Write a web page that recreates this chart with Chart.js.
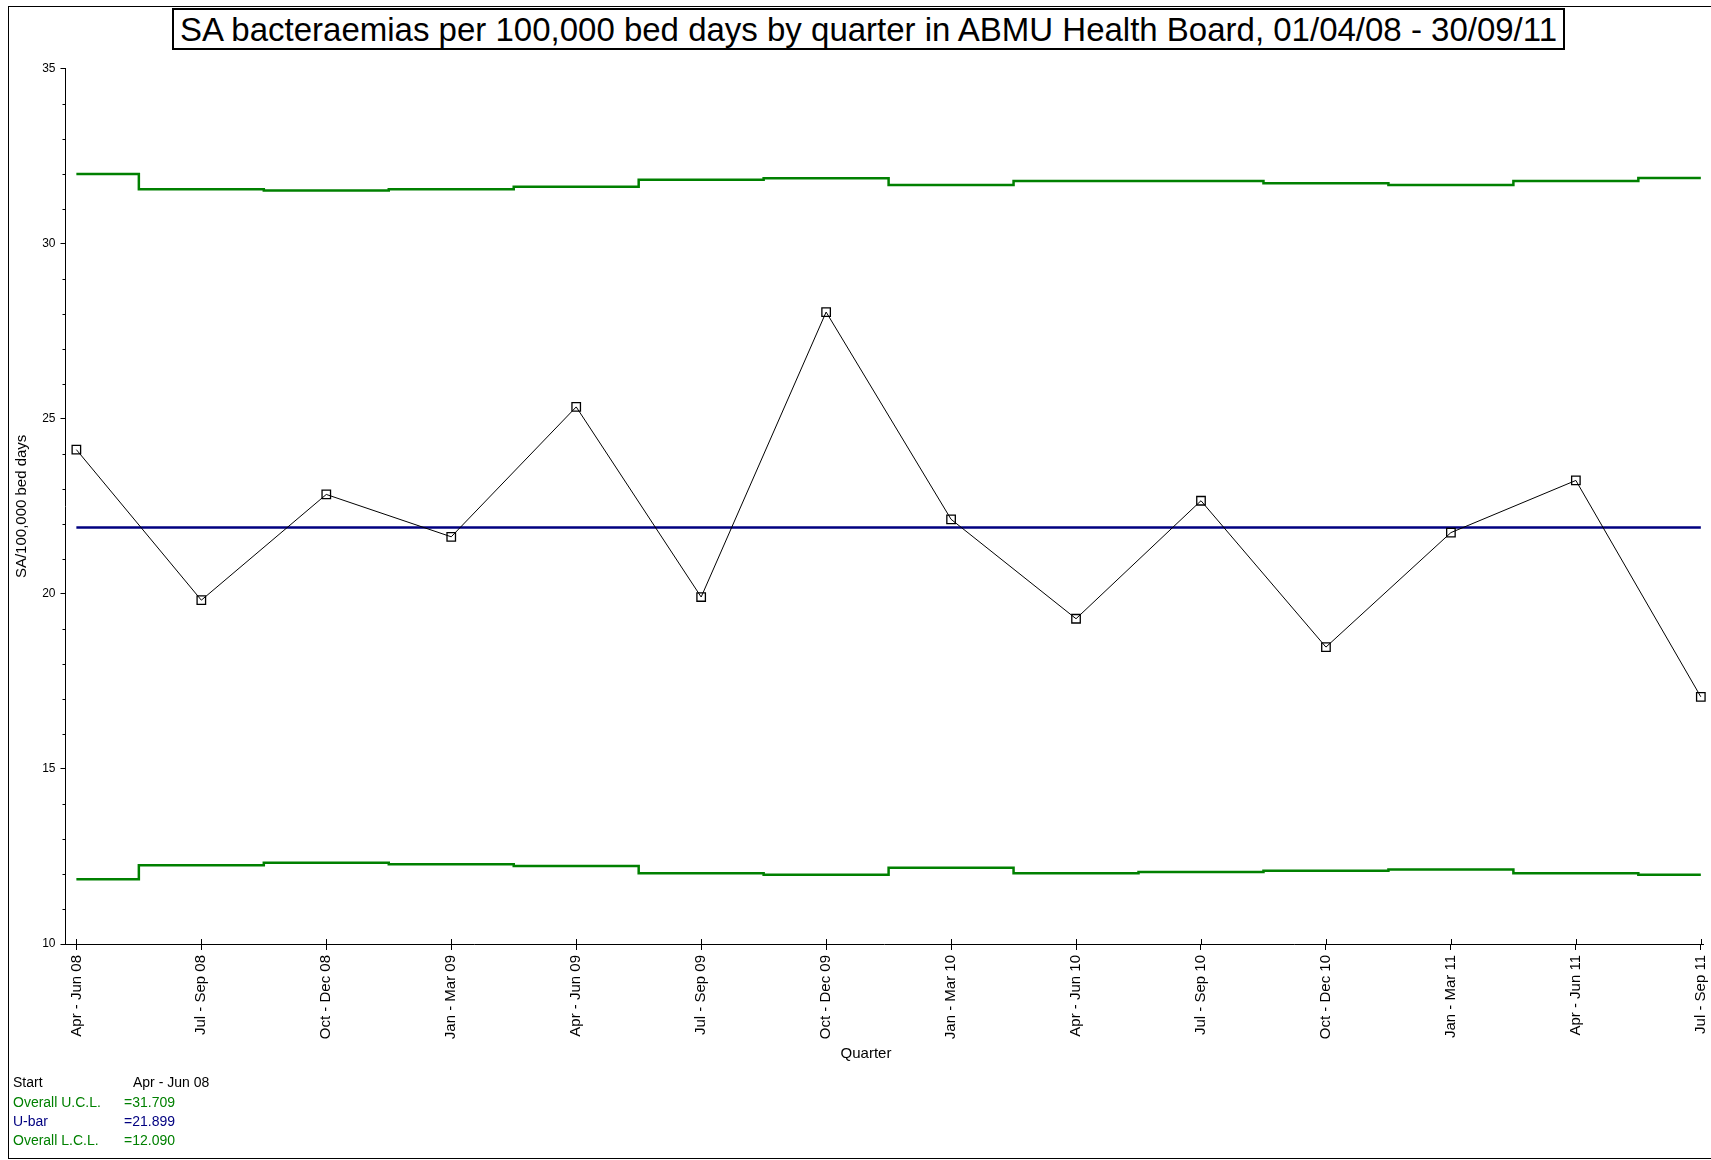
<!DOCTYPE html>
<html>
<head>
<meta charset="utf-8">
<title>SA bacteraemias per 100,000 bed days</title>
<script src="https://cdn.jsdelivr.net/npm/chart.js@4.4.1/dist/chart.umd.min.js"></script>
<style>
    body { margin: 0; background: #fff; }
    #wrap { position: relative; width: 1711px; height: 1160px; overflow: hidden;
            font-family: 'Liberation Sans', Arial, sans-serif; color: #000; }
    #chart { position: absolute; left: 0; top: 0; }
    #frame { position: absolute; left: 8px; top: 6px; width: 1710px; height: 1153px; box-sizing: border-box;
             border-left: 1px solid #000; border-top: 1px solid #000; border-bottom: 1px solid #000; }
    #title { position: absolute; left: 172px; top: 8px; width: 1393px; height: 42px; box-sizing: border-box;
             border: 2px solid #000; background: #fff; font-size: 33px; line-height: 40px;
             text-align: center; white-space: nowrap; }
    #xTitle { position: absolute; left: 766px; width: 200px; top: 1043px; text-align: center;
              font-size: 15px; line-height: 20px; }
    .stat { position: absolute; font-size: 14px; line-height: 20px; white-space: nowrap; }
    .green { color: #008000; }
    .navy { color: #000080; }
</style>
</head>
<body>
<div id="wrap">
    <canvas id="chart" width="1711" height="1160"></canvas>
    <div id="frame"></div>
    <div id="title">SA bacteraemias per 100,000 bed days by quarter in ABMU Health Board, 01/04/08 - 30/09/11</div>
    <div id="xTitle">Quarter</div>
    <div id="stats"></div>
</div>
<script>
// Data
const quarters = [
    'Apr - Jun 08', 'Jul - Sep 08', 'Oct - Dec 08', 'Jan - Mar 09',
    'Apr - Jun 09', 'Jul - Sep 09', 'Oct - Dec 09', 'Jan - Mar 10',
    'Apr - Jun 10', 'Jul - Sep 10', 'Oct - Dec 10', 'Jan - Mar 11',
    'Apr - Jun 11', 'Jul - Sep 11'
];
const saRate = [24.12, 19.82, 22.84, 21.63, 25.34, 19.91, 28.05, 22.13, 19.29, 22.66, 18.48, 21.75, 23.24, 17.06];
const ucl = [31.99, 31.56, 31.52, 31.56, 31.63, 31.83, 31.87, 31.68, 31.79, 31.79, 31.73, 31.68, 31.79, 31.88];
const lcl = [11.85, 12.25, 12.32, 12.28, 12.23, 12.02, 11.98, 12.18, 12.02, 12.06, 12.09, 12.13, 12.02, 11.98];
const uBar = 21.899;
const overallUcl = 31.709;
const overallLcl = 12.090;
const yTicks = [10, 15, 20, 25, 30, 35];

const GREEN = '#008000';
const NAVY = '#000080';

// summary block under the chart
const stats = document.getElementById('stats');
const rows = [
    ['Start', quarters[0], '', 1072, 133],
    ['Overall U.C.L.', '=' + overallUcl.toFixed(3), 'green', 1092, 124],
    ['U-bar', '=' + uBar.toFixed(3), 'navy', 1111, 124],
    ['Overall L.C.L.', '=' + overallLcl.toFixed(3), 'green', 1130, 124]
];
rows.forEach(([label, value, cls, top, valueX]) => {
    stats.insertAdjacentHTML('beforeend',
        `<div class="stat ${cls}" style="left:13px;top:${top}px">${label}</div>` +
        `<div class="stat ${cls}" style="left:${valueX}px;top:${top}px">${value}</div>`);
});

const toXY = arr => arr.map((v, i) => ({ x: i, y: v }));

// minor ticks on the y axis and the upper half of the x ticks
const axisTicks = {
    id: 'axisTicks',
    afterDraw(chart) {
        const { ctx, scales: { x, y } } = chart;
        ctx.save();
        ctx.strokeStyle = '#000';
        ctx.lineWidth = 1;
        ctx.beginPath();
        for (let v = yTicks[0]; v <= yTicks[yTicks.length - 1]; v++) {
            if (yTicks.includes(v)) continue;
            const py = Math.round(y.getPixelForValue(v)) + 0.5;
            ctx.moveTo(y.right - 3, py);
            ctx.lineTo(y.right, py);
        }
        x.ticks.forEach(t => {
            const px = Math.round(x.getPixelForValue(t.value)) + 0.5;
            ctx.moveTo(px, x.top);
            ctx.lineTo(px, x.top - 5);
        });
        ctx.stroke();
        ctx.restore();
    }
};

Chart.defaults.font.family = "'Liberation Sans', Arial, sans-serif";
Chart.defaults.color = '#000';

new Chart(document.getElementById('chart'), {
    type: 'line',
    data: {
        datasets: [
            {
                label: 'SA/100,000 bed days',
                data: toXY(saRate),
                borderColor: '#000',
                borderWidth: 1,
                pointStyle: 'rect',
                pointRadius: 6,
                pointBorderColor: '#000',
                pointBorderWidth: 1.3,
                pointBackgroundColor: 'rgba(0,0,0,0)',
                tension: 0,
                clip: false
            },
            {
                label: 'U-bar',
                data: toXY(quarters.map(() => uBar)),
                borderColor: NAVY,
                borderWidth: 2.5,
                pointRadius: 0,
                clip: false
            },
            {
                label: 'U.C.L.',
                data: toXY(ucl),
                borderColor: GREEN,
                borderWidth: 2.5,
                pointRadius: 0,
                stepped: 'middle',
                clip: false
            },
            {
                label: 'L.C.L.',
                data: toXY(lcl),
                borderColor: GREEN,
                borderWidth: 2.5,
                pointRadius: 0,
                stepped: 'middle',
                clip: false
            }
        ]
    },
    options: {
        responsive: false,
        devicePixelRatio: 1,
        animation: false,
        layout: {
            padding: { left: 0, right: 3, top: 68.7, bottom: 0 }
        },
        plugins: {
            legend: { display: false },
            tooltip: { enabled: false },
            title: { display: false }
        },
        scales: {
            x: {
                type: 'linear',
                min: -0.087,
                max: 13.023,
                afterBuildTicks: scale => {
                    scale.ticks = quarters.map((q, i) => ({ value: i }));
                },
                afterFit: scale => {
                    scale.height = 216;
                    scale.paddingLeft = 0;
                    scale.paddingRight = 0;
                },
                grid: {
                    display: true,
                    drawOnChartArea: false,
                    drawTicks: true,
                    tickLength: 6,
                    tickColor: '#000',
                    color: '#000'
                },
                border: { display: true, color: '#000', width: 1 },
                ticks: {
                    autoSkip: false,
                    minRotation: 90,
                    maxRotation: 90,
                    padding: 5,
                    font: { size: 15 },
                    callback: value => quarters[value]
                },
                title: { display: false }
            },
            y: {
                min: 10,
                max: 35,
                afterBuildTicks: scale => {
                    scale.ticks = yTicks.map(v => ({ value: v }));
                },
                afterFit: scale => {
                    scale.width = 65.5;
                    scale.paddingTop = 0;
                    scale.paddingBottom = 0;
                },
                grid: {
                    display: true,
                    drawOnChartArea: false,
                    drawTicks: true,
                    tickLength: 5,
                    tickColor: '#000',
                    color: '#000'
                },
                border: { display: true, color: '#000', width: 1 },
                ticks: {
                    padding: 5,
                    font: { size: 12 }
                },
                title: {
                    display: true,
                    text: 'SA/100,000 bed days',
                    font: { size: 15 },
                    padding: { top: 13, bottom: 0 }
                }
            }
        }
    },
    plugins: [axisTicks]
});
</script>
</body>
</html>
